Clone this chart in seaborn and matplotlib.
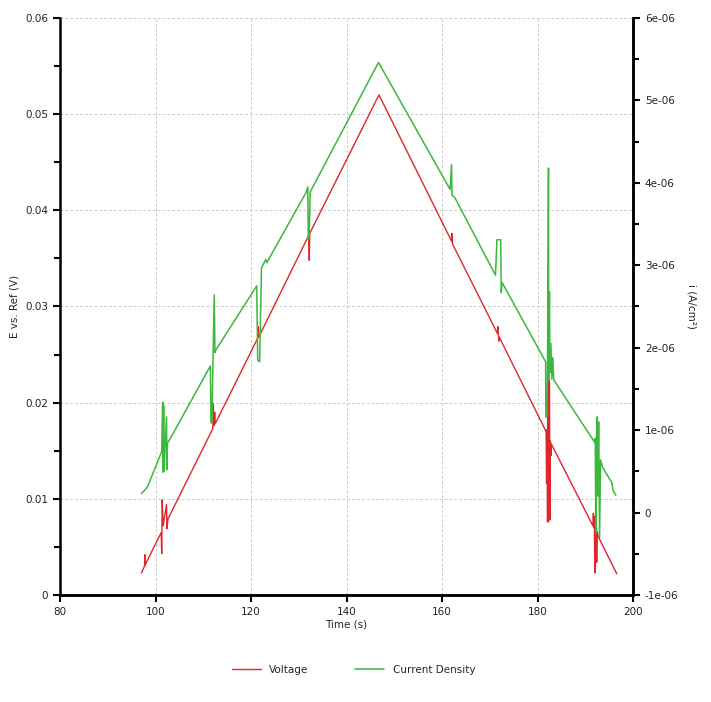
import numpy as np
import pandas as pd
import seaborn as sns
import matplotlib.pyplot as plt
from matplotlib.ticker import MultipleLocator, FuncFormatter


# values
volt_time = [97.05, 97.7, 97.75, 97.8, 101.2, 101.3, 101.4, 101.6, 102.3, 102.4, 102.6,
             112.0, 112.1, 112.25, 112.4, 112.5, 121.4, 121.5, 121.6, 132.0, 132.1, 132.2, 132.3,
             146.8, 162.0, 162.1, 162.2, 171.6, 171.7, 171.9, 172.0,
             181.8, 181.9, 182.0, 182.1, 182.2, 182.3, 182.5, 182.6, 182.7, 182.8, 182.9,
             191.6, 191.7, 191.8, 191.9, 192.0, 192.1, 192.3, 192.4, 192.5, 192.7, 196.6]
voltage = [0.0023, 0.0030, 0.0042, 0.0031, 0.0065, 0.0043, 0.0099, 0.0072, 0.0094, 0.0069, 0.0079,
           0.0173, 0.0199, 0.0176, 0.0190, 0.0178, 0.0267, 0.0279, 0.0268, 0.0373, 0.0370, 0.0348, 0.0376,
           0.0520, 0.0368, 0.0376, 0.0365, 0.0272, 0.0279, 0.0264, 0.0268,
           0.0170, 0.0116, 0.0172, 0.0076, 0.0231, 0.0076, 0.0225, 0.0078, 0.0160, 0.0145, 0.0157,
           0.0072, 0.0085, 0.0070, 0.0082, 0.0023, 0.0068, 0.0070, 0.0034, 0.0066, 0.0061, 0.0022]

curr_time = [97.05, 98.3, 101.3, 101.5, 101.6, 101.7, 101.8, 102.3, 102.4, 102.5, 103.2,
             111.5, 111.6, 111.8, 112.3, 112.45, 112.6, 121.2, 121.4, 121.8, 122.2, 123.1, 123.3,
             131.5, 131.9, 132.0, 132.2, 132.4, 146.7, 161.7, 162.0, 162.1, 162.7,
             171.2, 171.5, 172.3, 172.4, 172.6, 181.7, 181.75, 182.0, 182.1, 182.3, 182.35,
             182.5, 182.6, 182.8, 183.0, 183.2, 183.4, 192.0, 192.1, 192.2, 192.35, 192.5,
             192.65, 192.8, 193.0, 193.2, 193.7, 195.6, 195.8, 196.4]
current_uA = [0.23, 0.31, 0.74, 1.34, 0.49, 1.30, 0.50, 1.16, 0.52, 0.84, 0.91,
              1.78, 1.09, 1.09, 2.64, 1.94, 1.97, 2.75, 1.85, 1.83, 2.97, 3.07, 3.03,
              3.88, 3.95, 3.31, 3.39, 3.89, 5.46, 3.92, 4.22, 3.85, 3.82,
              2.88, 3.31, 3.31, 2.67, 2.79, 1.83, 1.16, 1.16, 1.76, 4.18, 1.60,
              2.68, 1.70, 2.05, 1.62, 1.88, 1.61, 0.85, 0.90, -0.25, 0.90, 1.16,
              0.20, 1.10, -0.30, 0.64, 0.54, 0.36, 0.27, 0.21]

red = "#e0262c"
green = "#3cb83c"

sns.set_style("white")
plt.rcParams["font.family"] = ["DejaVu Sans"]
plt.rcParams["font.size"] = 7.5

volt_df = pd.DataFrame({"t": volt_time, "v": voltage})
curr_df = pd.DataFrame({"t": curr_time, "i": np.array(current_uA) * 1e-6})

fig = plt.figure(figsize=(7.11, 7.02), dpi=100)
ax = fig.add_axes([0.0844, 0.1524, 0.8059, 0.822])
ax2 = ax.twinx()

sns.lineplot(data=volt_df, x="t", y="v", sort=False, estimator=None, color=red,
             linewidth=1.0, ax=ax, label="Voltage")
sns.lineplot(data=curr_df, x="t", y="i", sort=False, estimator=None, color=green,
             linewidth=1.1, ax=ax2, label="Current Density")

ax.set_xlim(80, 200)
ax.set_ylim(0, 0.06)
ax2.set_ylim(-1e-6, 6e-6)

ax.xaxis.set_major_locator(MultipleLocator(20))
ax.xaxis.set_minor_locator(MultipleLocator(10))
ax.yaxis.set_major_locator(MultipleLocator(0.01))
ax.yaxis.set_minor_locator(MultipleLocator(0.005))
ax.yaxis.set_major_formatter(FuncFormatter(lambda v, p: "0" if abs(v) < 1e-12 else f"{v:g}"))
ax2.yaxis.set_major_locator(MultipleLocator(1e-6))
ax2.yaxis.set_minor_locator(MultipleLocator(0.5e-6))
ax2.yaxis.set_major_formatter(FuncFormatter(lambda v, p: "0" if abs(v) < 1e-12 else f"{v:.0e}"))

ax.grid(True, which="major", linestyle=(0, (3, 2)), color="#cccccc", linewidth=0.7)
ax.set_axisbelow(True)

for a in (ax, ax2):
    a.spines["top"].set_visible(False)
    for s in ("left", "right", "bottom"):
        a.spines[s].set_linewidth(1.8)
        a.spines[s].set_color("black")
    a.tick_params(which="both", direction="out", width=1.5, colors="black", labelcolor="#222222")
    a.tick_params(which="major", length=5)
    a.tick_params(which="minor", length=4)
ax.tick_params(axis="y", left=True, right=False)
ax.tick_params(axis="x", bottom=True)
ax2.spines["left"].set_visible(False)

ax.set_xlabel("Time (s)", labelpad=2)
ax.set_ylabel("E vs. Ref (V)", labelpad=4)
ax2.set_ylabel("i (A/cm²)", rotation=270, labelpad=13)

h1, l1 = ax.get_legend_handles_labels()
h2, l2 = ax2.get_legend_handles_labels()
ax.get_legend().remove()
ax2.get_legend().remove()
fig.legend(h1 + h2, l1 + l2, loc="center", bbox_to_anchor=(0.497, 0.046), ncol=2,
           frameon=False, handlelength=2.8, columnspacing=4.5, fontsize=7.5)

fig.savefig("out.png", dpi=100)
